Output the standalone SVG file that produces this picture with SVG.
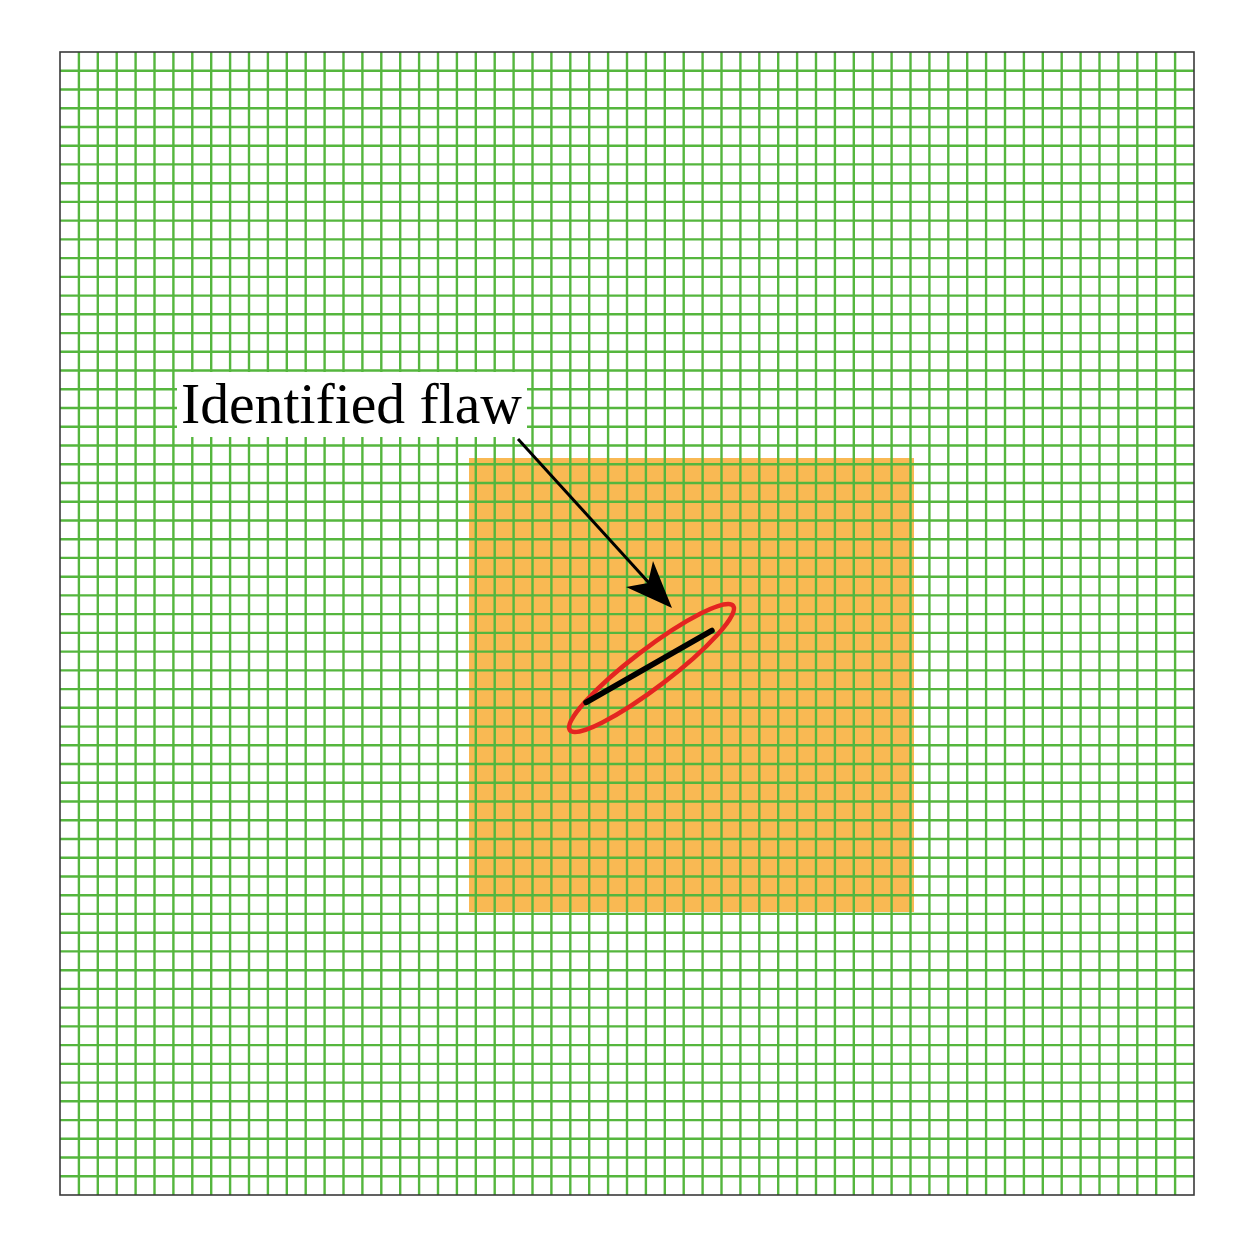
<svg xmlns="http://www.w3.org/2000/svg" width="1254" height="1254" viewBox="0 0 1254 1254">
<style>
.grid{fill:none;stroke:#55b63e;stroke-width:2.4}
.border{fill:none;stroke:#3a3a3a;stroke-width:1.6}
.zone{fill:#f9b953;stroke:none}
.label{font-family:"Liberation Serif","Times New Roman",serif;font-size:57px;fill:#000}
.conn{stroke:#000;stroke-width:3;fill:none}
</style>
<rect width="1254" height="1254" fill="#fff"/>
<g id="refined-zone"><rect class="zone" x="469" y="458" width="445" height="454"/></g>
<g id="mesh">
<path class="grid" d="M78.9 52V1195M97.8 52V1195M116.7 52V1195M135.6 52V1195M154.5 52V1195M173.4 52V1195M192.3 52V1195M211.2 52V1195M230.1 52V1195M249 52V1195M267.9 52V1195M286.8 52V1195M305.7 52V1195M324.6 52V1195M343.5 52V1195M362.4 52V1195M381.3 52V1195M400.2 52V1195M419.1 52V1195M438 52V1195M456.9 52V1195M475.8 52V1195M494.7 52V1195M513.6 52V1195M532.5 52V1195M551.4 52V1195M570.3 52V1195M589.2 52V1195M608.1 52V1195M627 52V1195M645.9 52V1195M664.8 52V1195M683.7 52V1195M702.6 52V1195M721.5 52V1195M740.4 52V1195M759.3 52V1195M778.2 52V1195M797.1 52V1195M816 52V1195M834.9 52V1195M853.8 52V1195M872.7 52V1195M891.6 52V1195M910.5 52V1195M929.4 52V1195M948.3 52V1195M967.2 52V1195M986.1 52V1195M1005 52V1195M1023.9 52V1195M1042.8 52V1195M1061.7 52V1195M1080.6 52V1195M1099.5 52V1195M1118.4 52V1195M1137.3 52V1195M1156.2 52V1195M1175.1 52V1195"/>
<path class="grid" d="M60 70.7H1194M60 89.5H1194M60 108.2H1194M60 127H1194M60 145.7H1194M60 164.4H1194M60 183.2H1194M60 201.9H1194M60 220.6H1194M60 239.4H1194M60 258.1H1194M60 276.9H1194M60 295.6H1194M60 314.3H1194M60 333.1H1194M60 351.8H1194M60 370.5H1194M60 389.3H1194M60 408H1194M60 426.8H1194M60 445.5H1194M60 464.2H1194M60 483H1194M60 501.7H1194M60 520.5H1194M60 539.2H1194M60 557.9H1194M60 576.7H1194M60 595.4H1194M60 614.1H1194M60 632.9H1194M60 651.6H1194M60 670.4H1194M60 689.1H1194M60 707.8H1194M60 726.6H1194M60 745.3H1194M60 764H1194M60 782.8H1194M60 801.5H1194M60 820.3H1194M60 839H1194M60 857.7H1194M60 876.5H1194M60 895.2H1194M60 913.9H1194M60 932.7H1194M60 951.4H1194M60 970.2H1194M60 988.9H1194M60 1007.6H1194M60 1026.4H1194M60 1045.1H1194M60 1063.9H1194M60 1082.6H1194M60 1101.3H1194M60 1120.1H1194M60 1138.8H1194M60 1157.5H1194M60 1176.3H1194"/>
<rect class="border" x="60" y="52" width="1134" height="1143"/>
</g>
<g id="flaw">
<ellipse cx="651.5" cy="668" rx="102.7" ry="19" transform="rotate(-37.3 651.5 668)" fill="none" stroke="#e42421" stroke-width="4.5"/>
<line x1="586" y1="702.5" x2="712" y2="630.5" stroke="#000" stroke-width="5.5" stroke-linecap="round"/>
</g>
<g id="label">
<rect x="177" y="372" width="350" height="65" fill="#fff"/>
<text class="label" x="181" y="423" textLength="341" lengthAdjust="spacingAndGlyphs">Identified flaw</text>
</g>
<g id="connectors">
<line class="conn" x1="518" y1="439" x2="650" y2="584"/>
<polygon points="672,608 653,561 648,583 626,587" fill="#000"/>
</g>
</svg>
